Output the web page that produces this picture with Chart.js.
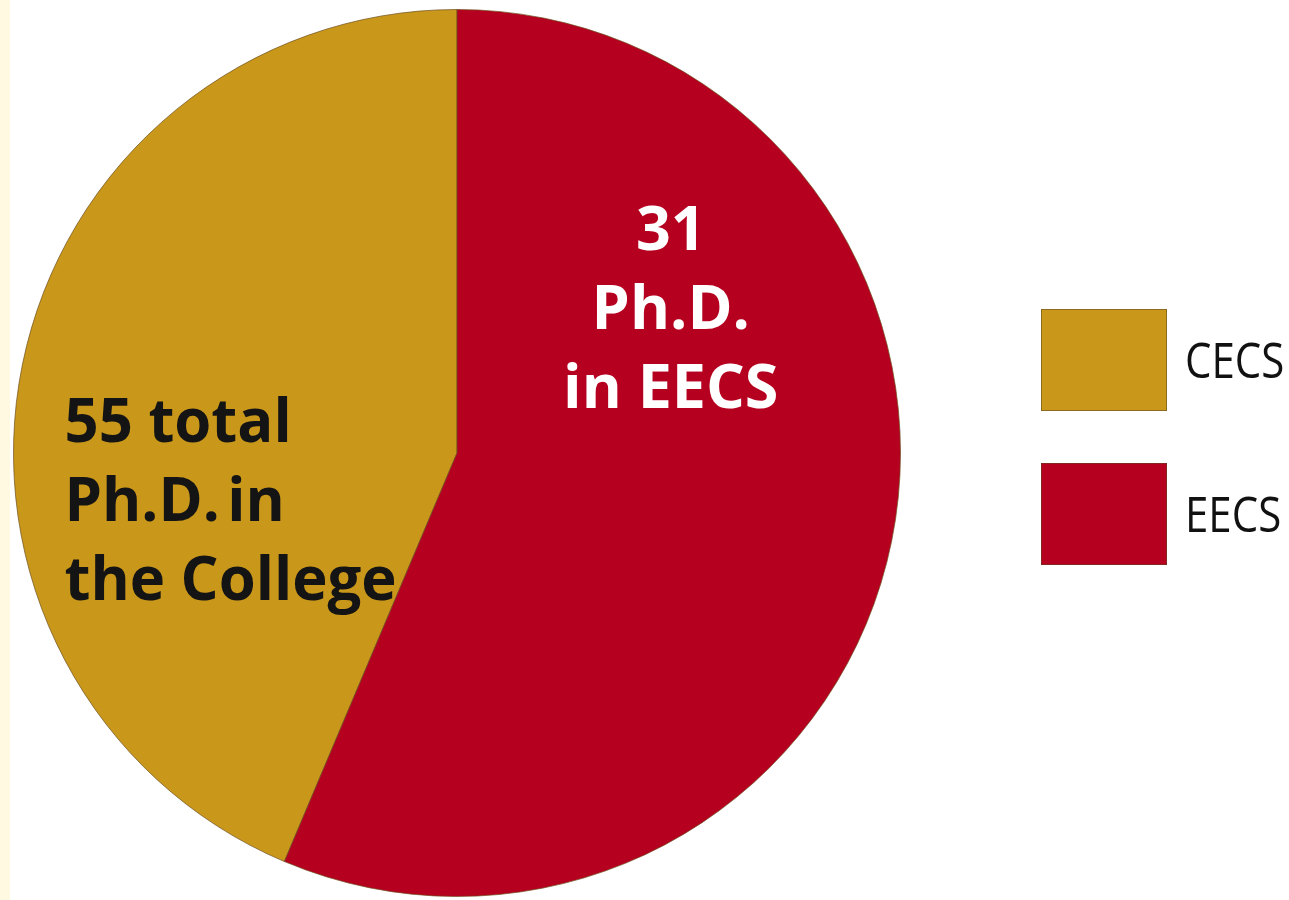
<!DOCTYPE html>
<html>
<head>
<meta charset="utf-8">
<script src="https://cdn.jsdelivr.net/npm/chart.js@4"></script>
<style>
  html, body { margin: 0; padding: 0; background: #ffffff; }
  #wrap { position: relative; width: 1289px; height: 900px; overflow: hidden; }
  #strip { position: absolute; left: 0; top: 0; width: 10px; height: 900px; background: #fff9e2; }
  #pie { position: absolute; left: 0; top: 0; }
  #legend { position: absolute; left: 1041px; top: 309px; }
  .item { position: relative; height: 154px; }
  .box { position: absolute; left: 0; top: 0; width: 126px; height: 102px; border: 1px solid rgba(90,70,40,0.55); box-sizing: border-box; }
  .lbl { position: absolute; left: 144px; top: 51px; transform: translateY(-52%) scaleX(0.84); transform-origin: left center;
         font-family: "Open Sans", sans-serif; font-size: 50px; color: #111111; white-space: nowrap; }
</style>
</head>
<body>
<div id="wrap">
  <div id="strip"></div>
  <canvas id="pie" width="1289" height="900"></canvas>
  <div id="legend"></div>
</div>
<script>
document.addEventListener('DOMContentLoaded', function() {
    // Data
    const labels = ['CECS', 'EECS'];
    const phdCounts = [24, 31];
    const colors = ['#c9971a', '#b5001f'];

    // Text written inside the slices
    const insideText = [
        ['55 total', 'Ph.D. in', 'the College'],
        ['31', 'Ph.D.', 'in EECS']
    ];

    const total = phdCounts.reduce((a, b) => a + b, 0);
    // EECS slice starts at 12 o'clock and runs clockwise
    const rotation = phdCounts[1] / total * 360;

    const sliceText = {
        id: 'sliceText',
        afterDatasetsDraw(chart) {
            const c = chart.ctx;
            const arc = chart.getDatasetMeta(0).data[0];
            const cx = arc.x, cy = arc.y, r = arc.outerRadius;
            c.save();
            c.font = 'bold 61px "Open Sans", sans-serif';
            c.textBaseline = 'alphabetic';

            // CECS text, left aligned
            c.fillStyle = '#141414';
            c.textAlign = 'left';
            insideText[0].forEach((line, i) => {
                c.save();
                // the second line is set tight in the original
                if ('wordSpacing' in c) c.wordSpacing = (i === 1) ? '-8px' : '0px';
                c.translate(cx - r * 0.885, cy - 11 + i * 79);
                c.scale(0.98, 1);
                c.fillText(line, 0, 0);
                c.restore();
            });

            // EECS text, centered
            c.fillStyle = '#ffffff';
            c.textAlign = 'center';
            insideText[1].forEach((line, i) => {
                c.fillText(line, cx + r * 0.482, cy - 203 + i * 79);
            });
            c.restore();
        }
    };

    const ctx = document.getElementById('pie').getContext('2d');
    new Chart(ctx, {
        type: 'pie',
        data: {
            labels: labels,
            datasets: [{
                data: phdCounts,
                backgroundColor: colors,
                borderColor: 'rgba(110,80,30,0.7)',
                borderWidth: 1
            }]
        },
        options: {
            responsive: false,
            animation: false,
            rotation: rotation,
            layout: { padding: { left: 13, top: 9, right: 388, bottom: 3 } },
            plugins: {
                legend: { display: false },
                tooltip: { enabled: false }
            }
        },
        plugins: [sliceText]
    });

    // Legend built from the same labels and colours
    const legend = document.getElementById('legend');
    labels.forEach((name, i) => {
        const item = document.createElement('div');
        item.className = 'item';
        const box = document.createElement('div');
        box.className = 'box';
        box.style.background = colors[i];
        const lbl = document.createElement('div');
        lbl.className = 'lbl';
        lbl.textContent = name;
        item.appendChild(box);
        item.appendChild(lbl);
        legend.appendChild(item);
    });
});
</script>
</body>
</html>
